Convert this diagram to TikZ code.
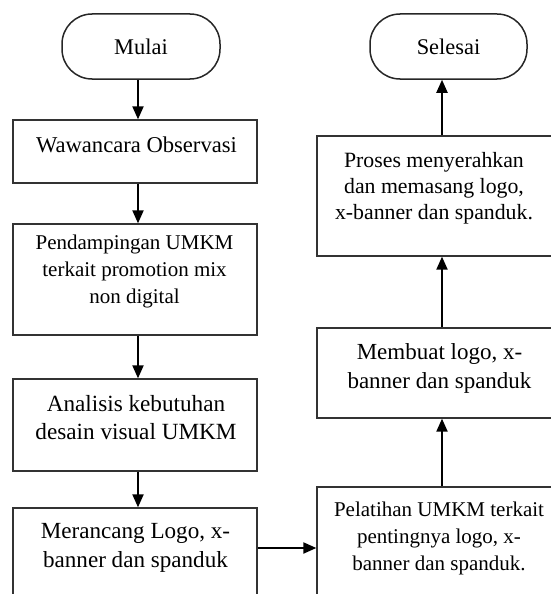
\documentclass[tikz,border=0pt]{standalone}
\usepackage{fontspec}
\setmainfont{Liberation Serif}
\usetikzlibrary{arrows.meta}
\begin{document}
\begin{tikzpicture}[x=1pt,y=-1pt,
  lbox/.style={draw=black!80,line width=1.3pt,inner sep=0pt,minimum width=244pt},
  rbox/.style={draw=black!80,line width=1.3pt,inner sep=0pt,minimum width=250pt},
  term/.style={draw=black!85,line width=1.5pt,rounded corners=30pt,inner sep=0pt,minimum height=65pt,font=\fontsize{22.4}{27}\selectfont},
  txt/.style={align=center,inner sep=0pt},
  arr/.style={-{Triangle[width=11pt,length=13pt]},line width=2pt}]
\useasboundingbox (0,0) rectangle (550,594);
% left column
\node[term,minimum width=158pt] (mulai) at (141,46.5) {Mulai};
\node[lbox,minimum height=63pt] (ww) at (135,151.5) {};
\node[txt,font=\fontsize{22.6}{27}\selectfont] (tww) at (136.5,144.5) {Wawancara Observasi};
\node[lbox,minimum height=111pt] (pd) at (135,279.5) {};
\node[txt,font=\fontsize{21}{27}\selectfont] (tpd) at (134.5,271) {Pendampingan UMKM\\terkait promotion mix\\non digital};
\node[lbox,minimum height=92pt] (an) at (135,425) {};
\node[txt,font=\fontsize{23.2}{28.5}\selectfont] (tan) at (136,417.5) {Analisis kebutuhan\\desain visual UMKM};
\node[lbox,minimum height=130pt] (mr) at (135,573) {};
\node[txt,font=\fontsize{23.1}{28.5}\selectfont] (tmr) at (135.5,548) {Merancang Logo, x-\\banner dan spanduk};
% right column
\node[term,minimum width=157pt] (sl) at (448.5,46.5) {Selesai};
\node[rbox,minimum height=120pt] (pr) at (442,196) {};
\node[txt,font=\fontsize{21.8}{26}\selectfont] (tpr) at (434,188.5) {Proses menyerahkan\\dan memasang logo,\\x-banner dan spanduk.};
\node[rbox,minimum height=90pt] (mb) at (442,373) {};
\node[txt,font=\fontsize{23}{29}\selectfont] (tmb) at (439.5,368.5) {Membuat logo, x-\\banner dan spanduk};
\node[rbox,minimum height=140pt] (pl) at (442,557) {};
\node[txt,font=\fontsize{21}{27}\selectfont] (tpl) at (439,538.5) {Pelatihan UMKM terkait\\pentingnya logo, x-\\banner dan spanduk.};
% arrows
\draw[arr] (mulai.south -| 138,0) -- (ww.north -| 138,0);
\draw[arr] (ww.south -| 138,0) -- (pd.north -| 138,0);
\draw[arr] (pd.south -| 138,0) -- (an.north -| 138,0);
\draw[arr] (an.south -| 138,0) -- (mr.north -| 138,0);
\draw[arr] (mr.east |- 0,548) -- (pl.west |- 0,548);
\draw[arr] (pl.north) -- (mb.south);
\draw[arr] (mb.north) -- (pr.south);
\draw[arr] (pr.north) -- (sl.south -| pr.north);
\end{tikzpicture}
\end{document}
